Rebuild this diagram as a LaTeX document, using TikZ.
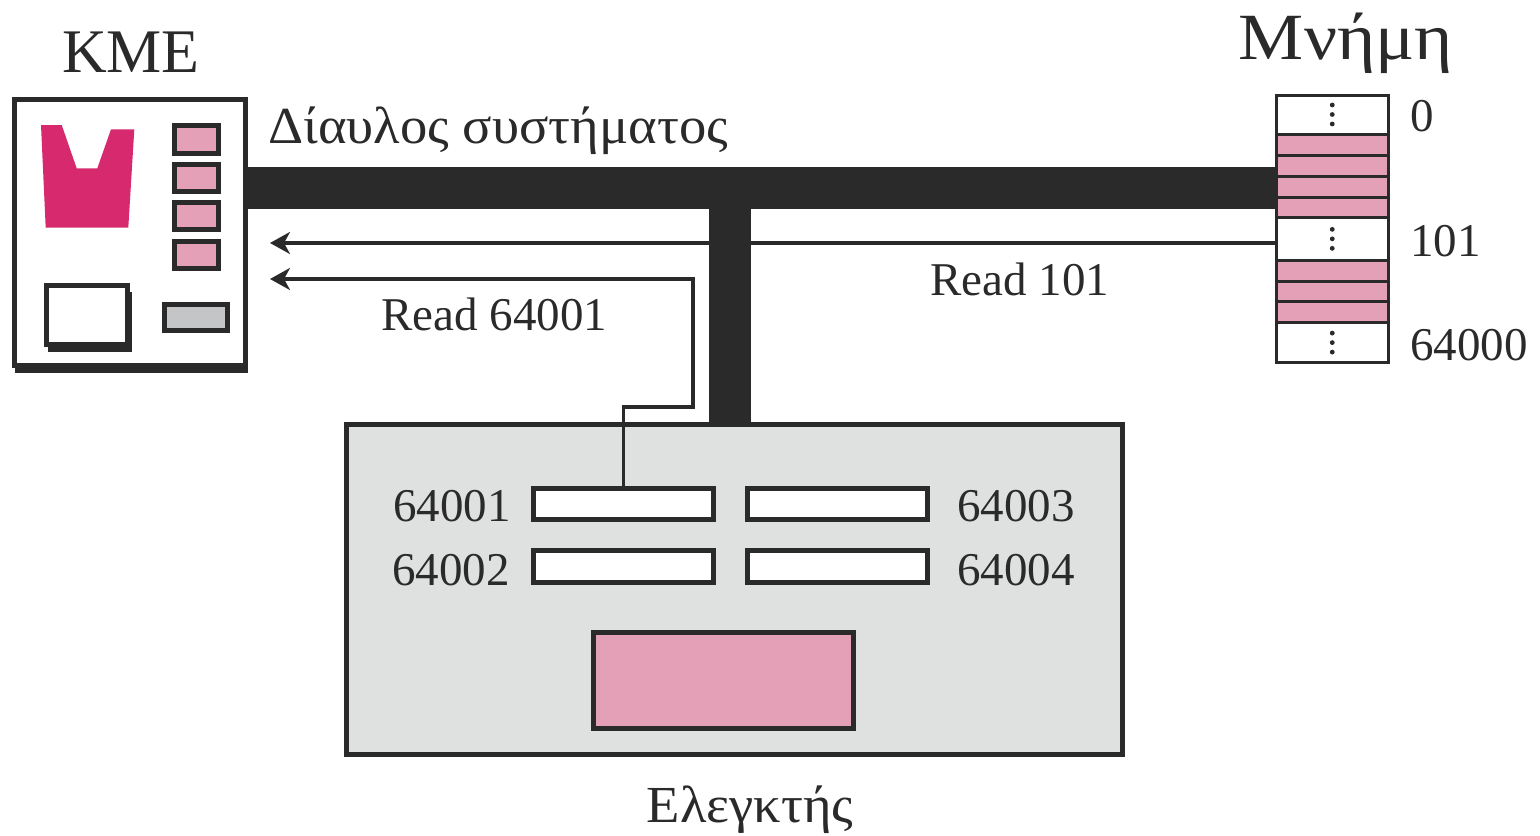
\documentclass[tikz,border=0pt]{standalone}
\usepackage{fontspec}
\setmainfont{Liberation Serif}
\newfontfamily\greekwide[FakeStretch=1.05]{Liberation Serif}
\newfontfamily\greekwider[FakeStretch=1.11]{Liberation Serif}
\usetikzlibrary{arrows.meta,fit}
\definecolor{ink}{RGB}{43,42,42}
\definecolor{rose}{RGB}{228,160,183}
\definecolor{crimson}{RGB}{215,42,110}
\definecolor{ctrlgray}{RGB}{223,224,224}
\definecolor{midgray}{RGB}{195,197,199}
\tikzset{
  heavy/.style={draw=ink, line width=2.5pt, inner sep=0pt},
  cellbox/.style={draw=ink, line width=1.5pt, inner sep=0pt},
  wire/.style={draw=ink, line width=1.6pt},
  arr/.style={wire, -{Stealth[length=10pt,width=11pt,inset=3pt]}},
  lbl/.style={text=ink, font=\fontsize{23.5}{28}\selectfont, inner sep=0pt},
  greeklbl/.style={text=ink, font=\greekwide\fontsize{26}{30}\selectfont, inner sep=0pt},
  big/.style={text=ink, font=\fontsize{31}{36}\selectfont, inner sep=0pt},
  greekbig/.style={text=ink, font=\greekwider\fontsize{33}{38}\selectfont, inner sep=0pt},
  dot/.style={fill=ink}
}
\begin{document}
\begin{tikzpicture}[x=0.5pt,y=-0.5pt]
\useasboundingbox (0,0) rectangle (1540,835);
% ---- arrow ends at the CPU
\coordinate (in1) at (270,243);
\coordinate (in2) at (270,279);
% ---- memory
\node[cellbox, fill=white, fit={(1276.5,95)(1388,134)}] (m0) {};
\node[cellbox, fill=rose, fit={(1276.5,134)(1388,155.7)}] (p1) {};
\node[cellbox, fill=rose, fit={(1276.5,155.7)(1388,176.7)}] (p2) {};
\node[cellbox, fill=rose, fit={(1276.5,176.7)(1388,197.3)}] (p3) {};
\node[cellbox, fill=rose, fit={(1276.5,197.3)(1388,217.7)}] (p4) {};
\node[cellbox, fill=white, fit={(1276.5,217.7)(1388,260)}] (m101) {};
\node[cellbox, fill=rose, fit={(1276.5,260)(1388,281)}] (p5) {};
\node[cellbox, fill=rose, fit={(1276.5,281)(1388,301.7)}] (p6) {};
\node[cellbox, fill=rose, fit={(1276.5,301.7)(1388,322.7)}] (p7) {};
\node[cellbox, fill=white, fit={(1276.5,322.7)(1388,362.5)}] (m64000) {};
\foreach \c in {m0,m101,m64000}{
  \foreach \d in {-9.5,0,9.5}{
    \fill[dot] (\c.center) ++(0,\d) circle (1.2pt);
  }
}
\draw[arr] (m101.west |- 0,243) -- (in1);
% ---- controller
\node[heavy, fill=ctrlgray, fit={(346.5,424.5)(1122.5,754.5)}] (ctrl) {};
\node[heavy, fill=white, fit={(533.5,488.5)(713.5,519.5)}] (r1) {};
\node[heavy, fill=white, fit={(747.5,488.5)(927.5,519.5)}] (r3) {};
\node[heavy, fill=white, fit={(533.5,550.5)(713.5,582.5)}] (r2) {};
\node[heavy, fill=white, fit={(747.5,550.5)(927.5,582.5)}] (r4) {};
\node[heavy, fill=rose, fit={(593.5,632.5)(853.5,728.5)}] (buf) {};
\draw[arr] (r1.north) |- (693,407) |- (in2);
% ---- CPU
\fill[ink] (15,105) rectangle (248,373);
\node[heavy, fill=white, fit={(14.5,99)(245,365.7)}] (cpu) {};
\fill[crimson] (41,125) -- (61.7,125) -- (76.7,168.3) -- (97.3,168.3) -- (111,129.3)
  -- (134.3,129.3) -- (128.3,227.7) -- (45.7,227.7) -- cycle;
\node[heavy, fill=rose, fit={(174.2,125.8)(218.5,153.2)}] (cr1) {};
\node[heavy, fill=rose, fit={(174.2,164.8)(218.5,191.5)}] (cr2) {};
\node[heavy, fill=rose, fit={(174.2,202.5)(218.5,229.2)}] (cr3) {};
\node[heavy, fill=rose, fit={(174.2,241.8)(218.5,268.5)}] (cr4) {};
\node[heavy, fill=midgray, fit={(164.2,304.2)(227.5,330.8)}] (alu) {};
\fill[ink] (48,292) rectangle (131.7,351.7);
\node[heavy, fill=white, fit={(46.5,285.5)(127.5,344.2)}] (cache) {};
% ---- buses
\node[fill=ink, inner sep=0pt, fit={(248,167)(1276,209)}] (bus) {};
\node[fill=ink, inner sep=0pt, fit={(709,209)(751,424)}] (stub) {};
% ---- labels
\node[big, anchor=base] (kme) at (131,72) {KME};
\node[greekbig, anchor=base] (mnimi) at (1346,59) {Μνήμη};
\node[greeklbl, anchor=base west] (busl) at (268,143) {Δίαυλος συστήματος};
\node[lbl, anchor=base west] (rd101) at (930,295) {Read 101};
\node[lbl, anchor=base west] (rd64001) at (381,330) {Read 64001};
\node[lbl, anchor=base east] at (511,521) {64001};
\node[lbl, anchor=base east] at (510,585) {64002};
\node[lbl, anchor=base west] at (957,521) {64003};
\node[lbl, anchor=base west] at (957,585) {64004};
\node[lbl, anchor=base west] at (1410,131) {0};
\node[lbl, anchor=base west] at (1410,256) {101};
\node[lbl, anchor=base west] at (1410,360) {64000};
\node[greeklbl, anchor=base] (ctrll) at (750,822) {Ελεγκτής};
\end{tikzpicture}
\end{document}
